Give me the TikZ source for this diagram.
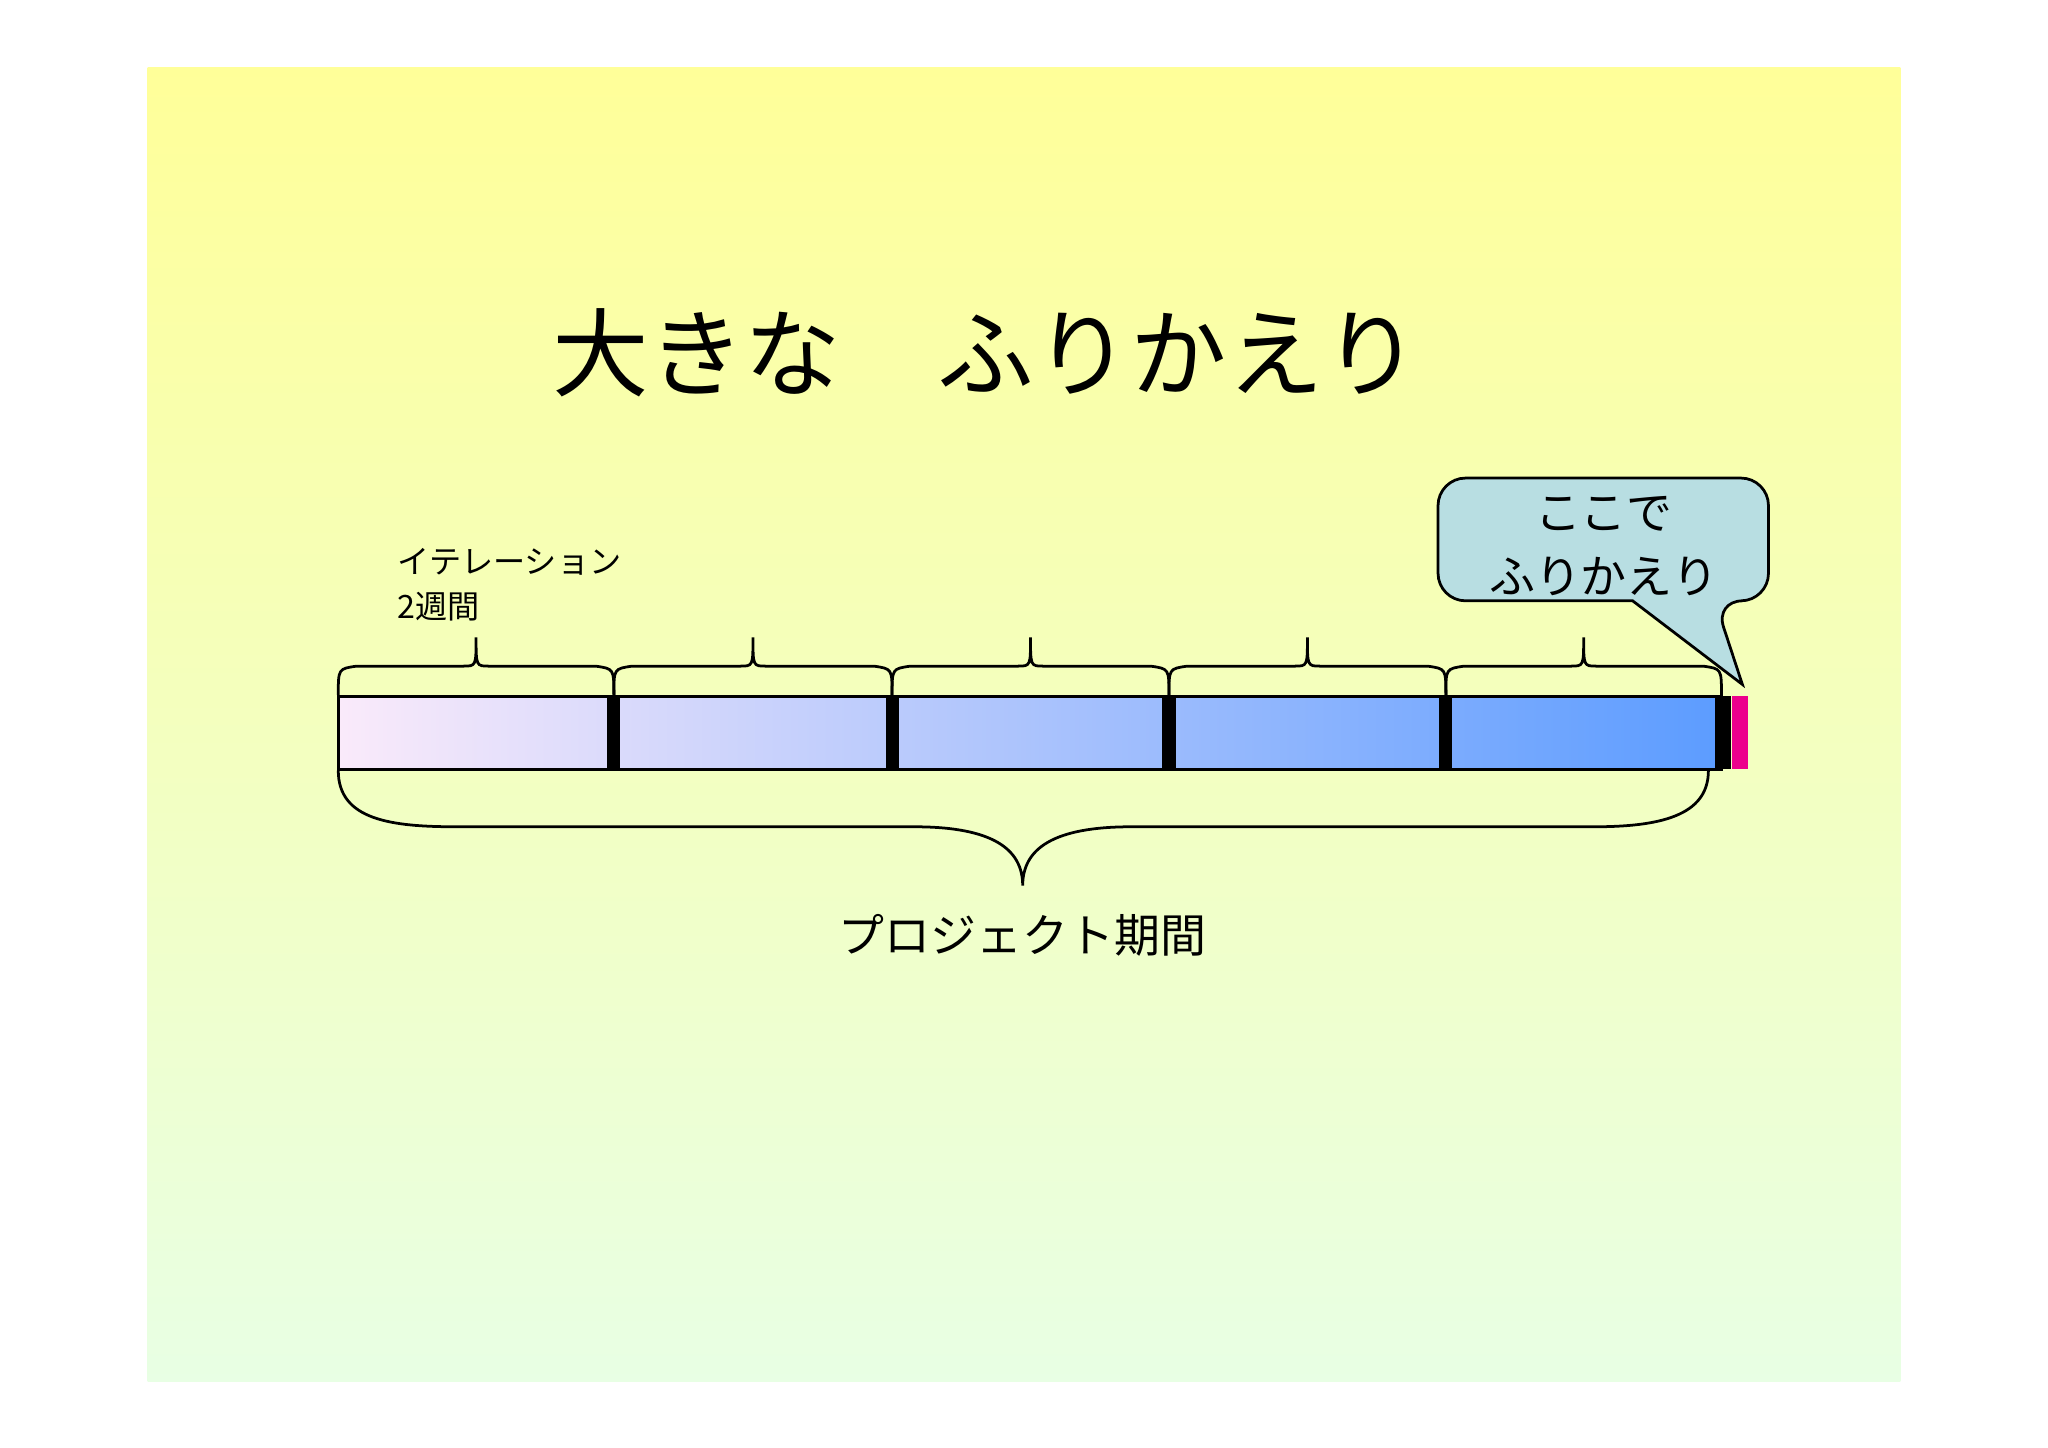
\documentclass[tikz,border=0pt]{standalone}
\usepackage{fontspec}
\newfontfamily\jp{Noto Sans CJK JP}
\begin{document}
\begin{tikzpicture}[x=0.01cm,y=-0.01cm,
  brace/.style={draw=black,line width=0.6pt},
  sep/.style={fill=black,draw=none}]
\useasboundingbox (0,0) rectangle (1568,1108);
\fill[white] (0,0) rectangle (1568,1108);
\shade[top color={rgb,255:red,255;green,255;blue,153}, bottom color={rgb,255:red,232;green,255;blue,228}] (113,52) rectangle (1455,1058);
\node[font=\jp\fontsize{21}{25}\selectfont] (title) at (755,270) {大きな\hspace{1em}ふりかえり};
% bar
\shade[left color={rgb,255:red,250;green,234;blue,250}, right color={rgb,255:red,92;green,156;blue,255}] (259,533) rectangle (1318,589);
\draw[line width=0.6pt] (259,533) rectangle (1318,589);
\foreach \x in {470,683,895,1107} \fill[sep] (\x-5,533) rectangle (\x+5,589);
\fill[sep] (1313,533) rectangle (1325,589);
\fill[magenta] (1326,533) rectangle (1338,589);
% small braces
\foreach \a/\b in {259/470,470/683,683/895,895/1107,1107/1318}{
  \pgfmathsetmacro\m{(\a+\b)/2}
  \draw[brace] (\a,532) .. controls (\a,512) .. (\a+14,510) -- (\m-10,510) .. controls (\m,510) .. (\m,488) .. controls (\m,510) .. (\m+10,510) -- (\b-14,510) .. controls (\b,512) .. (\b,532);
}
% big brace
\draw[brace] (259,590) .. controls (259,628) and (300,633) .. (350,633) -- (700,633) .. controls (760,633) and (783,650) .. (783,678) .. controls (783,650) and (806,633) .. (866,633) -- (1220,633) .. controls (1270,633) and (1308,625) .. (1308,590);
\node[font=\jp\fontsize{7}{10}\selectfont, anchor=north west, align=left] (iter) at (292,407) {イテレーション\\2週間};
\node[font=\jp\fontsize{10}{12}\selectfont] (proj) at (783,716) {プロジェクト期間};
% callout
\draw[line width=0.6pt, fill={rgb,255:red,184;green,222;blue,226}, rounded corners=6pt]
  (1101,366) -- (1354,366) -- (1354,460) -- (1313,460) [sharp corners] -- (1334,524) -- (1250,460) [rounded corners=6pt] -- (1101,460) -- cycle;
\node[font=\jp\fontsize{10}{14}\selectfont, align=center] (call) at (1228,418) {ここで\\ふりかえり};
\end{tikzpicture}
\end{document}
